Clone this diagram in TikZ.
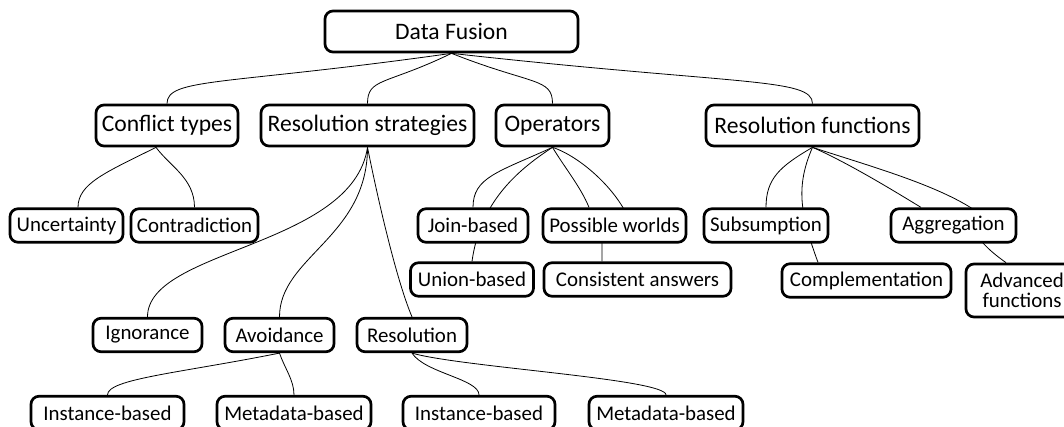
\documentclass[tikz,border=0pt]{standalone}
\usepackage{fontspec}
\setmainfont{Carlito}
\usetikzlibrary{calc,backgrounds}

\begin{document}
\begin{tikzpicture}[x=0.5pt, y=-0.5pt,
  box/.style={draw, fill=white, rounded corners=4pt, line width=1.35pt, inner sep=0pt, align=center},
  topbox/.style={box, minimum height=20.5pt, font=\fontsize{11.8}{14}\selectfont},
  subbox/.style={box, minimum height=16.75pt, font=\fontsize{10.45}{10}\selectfont},
  link/.style={line width=1.3pt}]

% frame of the picture, in pixels of the original (y runs down)
\useasboundingbox (0,0) rectangle (1064,427);

% root
\node[topbox, minimum width=0.5pt*253] (df) at (451.5,31.5) {Data Fusion};

% first level
\foreach \nm/\x/\w/\txt in {ct/167/142/Conflict types, rs/367.5/213/Resolution strategies,
  op/552.5/113/Operators, rf/812.5/213/Resolution functions}
  \node[topbox, minimum width=0.5pt*\w] (\nm) at (\x,125.5) {\txt};

% lower levels: name / x / y / width / label
\foreach \nm/\x/\y/\w/\txt in {un/66.5/225.5/113/Uncertainty, co/194.5/225.5/127/Contradiction,
  jb/473/225.5/110/Join-based, ub/472/279.5/123/Union-based,
  pw/614.5/225.5/143/Possible worlds, ca/637.5/279.5/187/Consistent answers,
  su/766/225.5/124/Subsumption, ag/953.5/225.5/125/Aggregation,
  cm/866.5/280.5/169/Complementation,
  ig/147.5/335/109/Ignorance, av/279.5/335/109/Avoidance, re/412/335/110/Resolution,
  ib1/107.5/413/153/Instance-based, mb1/294/413/154/Metadata-based,
  ib2/479/413/152/Instance-based, mb2/666/413/154/Metadata-based}
  \node[subbox, minimum width=0.5pt*\w] (\nm) at (\x,\y) {\txt};

\node[subbox, minimum width=0.5pt*112, minimum height=26.5pt] (af) at (1022,290.5) {Advanced\\functions};

% curved links, kept behind the boxes
\begin{scope}[on background layer, link]
% root to first level
\draw (df.south) .. controls +(-227,32) and +(0,-26) .. (ct.north);
\draw (df.south) .. controls +(-66,32) and +(0,-26) .. (rs.north);
\draw (df.south) .. controls +(81,32) and +(0,-26) .. (op.north);
\draw (df.south) .. controls +(288,32) and +(0,-26) .. (rf.north);

% conflict types
\draw ($(ct.south)+(-11,0)$) .. controls +(-50,25) and +(0,-24) .. ($(un.north)+(11.5,0)$);
\draw ($(ct.south)+(-11,0)$) .. controls +(14,19) and +(0,-29) .. (co.north);

% resolution strategies
\draw (rs.south) .. controls +(-15,100) and +(0,-68) .. (ig.north);
\draw (rs.south) .. controls +(0,90) and +(0,-60) .. (av.north);
\draw (rs.south) .. controls +(10,50) and +(-16,-38) .. (re.north);
\draw (av.south) .. controls +(-100,20) and +(0,-16) .. (ib1.north);
\draw (av.south) .. controls +(5,15) and +(0,-15) .. (mb1.north);
\draw (re.south) .. controls +(13,20) and +(0,-16) .. (ib2.north);
\draw (re.south) .. controls +(48,14) and +(0,-16) .. (mb2.north);

% operators
\draw (op.south) .. controls +(-55,25) and +(0,-30) .. (jb.north);
\draw (op.south) .. controls +(-37,24) and +(8,-58) .. (ub.north);
\draw (op.south) .. controls +(12,20) and +(-8,-20) .. ($(pw.north)+(-25.5,0)$);
\draw (op.south) .. controls +(27.5,9) and +(-12,-32) .. ($(pw.center)+(15.5,-3.5)$)
  -- ($(pw.center)+(-12.5,4.5)$) -- ($(ca.north)+(-35.5,0)$);

% resolution functions
\draw (rf.south) .. controls +(-32.5,19) and +(0,-29) .. (su.north);
\draw (rf.south) .. controls +(-17,39) and +(-18,-49) .. ($(cm.north)+(-48.5,0)$);
\draw (rf.south) .. controls +(32.5,14) and +(-31,-19) .. ($(ag.north)+(-32.5,0)$);
\draw (rf.south) .. controls +(57.5,19) and +(-35,-30) .. ($(ag.center)+(31.5,-7.5)$)
  -- ($(ag.center)+(21.5,6.5)$) .. controls +(7,12) and +(-14,-10) .. ($(af.north)+(-16,0)$);
\end{scope}

\end{tikzpicture}
\end{document}
